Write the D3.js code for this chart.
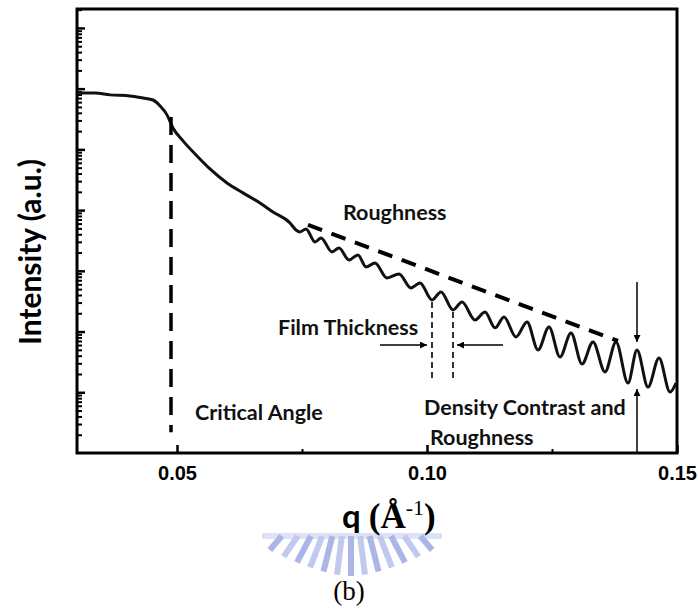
<!DOCTYPE html>
<html>
<head>
<meta charset="utf-8">
<script src="https://cdn.jsdelivr.net/npm/d3@7"></script>
<style>
body { margin: 0; background: #fff; }
</style>
</head>
<body>
<div id="chart"></div>
<script>
// reflectivity curve
const qData = [0.0302, 0.0336, 0.0366, 0.0406, 0.0432, 0.0452, 0.0466, 0.0480, 0.0492, 0.0512,
    0.0540, 0.0566, 0.0600, 0.0632, 0.0666, 0.0692, 0.0726, 0.0738, 0.0746, 0.0758,
    0.0776, 0.0788, 0.0810, 0.0824, 0.0844, 0.0862, 0.0878, 0.0896, 0.0920, 0.0944,
    0.0968, 0.0986, 0.1010, 0.1028, 0.1052, 0.1070, 0.1096, 0.1116, 0.1136, 0.1154,
    0.1178, 0.1200, 0.1222, 0.1244, 0.1266, 0.1288, 0.1310, 0.1332, 0.1356, 0.1378,
    0.1402, 0.1420, 0.1442, 0.1464, 0.1486, 0.1498];
const intensity = [8.5e5, 8.5e5, 7.9e5, 7.6e5, 7.0e5, 6.5e5, 5.2e5, 3.7e5, 2.25e5, 1.38e5,
    7.8e4, 4.76e4, 2.8e4, 1.92e4, 1.31e4, 9300, 6150, 4710, 4370, 4900,
    2990, 3480, 2050, 2380, 1510, 1830, 1160, 1350, 763, 888,
    522, 631, 331, 449, 227, 307, 155, 210, 115, 174,
    81.4, 144, 49.8, 119, 38.1, 94.8, 29.2, 67.4, 21.6, 67.4,
    14.2, 49.7, 12.2, 36.7, 10.1, 14.2];

const xTicks = [0.05, 0.10, 0.15];
const xMinor = [0.075, 0.125];
const yDecades = [1e1, 1e2, 1e3, 1e4, 1e5, 1e6, 1e7];

// annotations (in data units)
const criticalQ = 0.0488;
const criticalRange = [3.4e5, 2.2];
const roughLine = [[0.0762, 5700], [0.1382, 70]];
const fringeQ = [0.1010, 0.1052];
const fringeTop = [307, 210];
const fringeBottom = 15.3;

const W = 698, H = 614;
const margin = {top: 9, right: 21, bottom: 161, left: 77};

const svg = d3.select('#chart').append('svg')
    .attr('width', W)
    .attr('height', H);

const x = d3.scaleLinear().domain([0.03, 0.15]).range([margin.left, W - margin.right]);
const y = d3.scaleLog().domain([1, 2.05e7]).range([H - margin.bottom, margin.top]);

const sans = 'Lato, Carlito, "Open Sans", sans-serif';
const serif = '"Liberation Serif", "Times New Roman", serif';

// watermark (logo remnant under the axis title)
let wm = svg.append('g').attr('opacity', 0.7);
wm.append('rect')
    .attr('x', 262).attr('y', 533).attr('width', 180).attr('height', 6)
    .attr('fill', '#d0d6f4');
let cx = 351, cy = 468;
d3.range(-6, 7).forEach(i => {
    let a = i * 0.13;
    let yb = 576 - 26 * Math.pow(Math.abs(i) / 6, 1.6);
    wm.append('line')
        .attr('x1', cx + (538 - cy) * Math.tan(a)).attr('y1', 536)
        .attr('x2', cx + (yb - cy) * Math.tan(a)).attr('y2', yb)
        .attr('stroke', i % 2 ? '#a7b3e8' : '#8898dc')
        .attr('stroke-width', 6);
});

// y axis ticks, inward
let minorVals = [];
for (let d = 1; d <= 1e7; d *= 10) {
    for (let m = 2; m <= 9; m++) if (d * m < 2.05e7) minorVals.push(d * m);
}
svg.append('g')
    .attr('transform', `translate(${margin.left},0)`)
    .call(d3.axisRight(y).tickValues(yDecades).tickSize(8).tickFormat(''))
    .call(g => g.select('.domain').remove())
    .selectAll('line').attr('stroke', '#000').attr('stroke-width', 2.5);
svg.append('g')
    .attr('transform', `translate(${margin.left},0)`)
    .call(d3.axisRight(y).tickValues(minorVals).tickSize(5).tickFormat(''))
    .call(g => g.select('.domain').remove())
    .selectAll('line').attr('stroke', '#000').attr('stroke-width', 2);

// x axis ticks, inward, labels below
let yb0 = H - margin.bottom;
svg.append('g')
    .attr('transform', `translate(0,${yb0})`)
    .call(d3.axisTop(x).tickValues(xTicks).tickSize(8).tickFormat(''))
    .call(g => g.select('.domain').remove())
    .selectAll('line').attr('stroke', '#000').attr('stroke-width', 2.5);
svg.append('g')
    .attr('transform', `translate(0,${yb0})`)
    .call(d3.axisTop(x).tickValues(xMinor).tickSize(4).tickFormat(''))
    .call(g => g.select('.domain').remove())
    .selectAll('line').attr('stroke', '#000').attr('stroke-width', 2);
svg.append('g')
    .attr('transform', `translate(0,${yb0})`)
    .call(d3.axisBottom(x).tickValues(xTicks).tickSize(0).tickPadding(13).tickFormat(d3.format('.2f')))
    .call(g => g.select('.domain').remove())
    .selectAll('text')
    .attr('fill', '#000')
    .style('font-family', '"Liberation Sans", Arial, sans-serif')
    .style('font-weight', 'bold')
    .style('font-size', '20px');

// frame
svg.append('rect')
    .attr('x', margin.left).attr('y', margin.top)
    .attr('width', W - margin.left - margin.right)
    .attr('height', H - margin.top - margin.bottom)
    .attr('fill', 'none').attr('stroke', '#000').attr('stroke-width', 3);

// data curve
let line = d3.line()
    .x((d, i) => x(qData[i]))
    .y(d => y(d))
    .curve(d3.curveMonotoneX);
svg.append('path')
    .datum(intensity)
    .attr('d', line)
    .attr('fill', 'none')
    .attr('stroke', '#111')
    .attr('stroke-width', 3)
    .attr('stroke-linejoin', 'round');

// critical angle
svg.append('line')
    .attr('x1', x(criticalQ)).attr('x2', x(criticalQ))
    .attr('y1', y(criticalRange[0])).attr('y2', y(criticalRange[1]))
    .attr('stroke', '#000').attr('stroke-width', 3.5)
    .attr('stroke-dasharray', '18 10');

// roughness envelope
svg.append('line')
    .attr('x1', x(roughLine[0][0])).attr('y1', y(roughLine[0][1]))
    .attr('x2', x(roughLine[1][0])).attr('y2', y(roughLine[1][1]))
    .attr('stroke', '#000').attr('stroke-width', 4)
    .attr('stroke-dasharray', '15 10');

// film thickness markers
fringeQ.forEach((q, i) => {
    svg.append('line')
        .attr('x1', x(q)).attr('x2', x(q))
        .attr('y1', y(fringeTop[i])).attr('y2', y(fringeBottom))
        .attr('stroke', '#000').attr('stroke-width', 1.6)
        .attr('stroke-dasharray', '6 4');
});

svg.append('defs').append('marker')
    .attr('id', 'arrow')
    .attr('viewBox', '0 0 10 10')
    .attr('refX', 10).attr('refY', 5)
    .attr('markerWidth', 7).attr('markerHeight', 7)
    .attr('markerUnits', 'userSpaceOnUse')
    .attr('orient', 'auto')
    .append('path')
    .attr('d', 'M0,0L10,5L0,10z')
    .attr('fill', '#000');

function arrow(q1, i1, q2, i2) {
    svg.append('line')
        .attr('x1', x(q1)).attr('y1', y(i1))
        .attr('x2', x(q2)).attr('y2', y(i2))
        .attr('stroke', '#000').attr('stroke-width', 1.5)
        .attr('marker-end', 'url(#arrow)');
}
arrow(0.0906, 60, 0.1000, 60);
arrow(0.1152, 60, 0.1060, 60);
arrow(0.1420, 656, 0.1420, 67);
arrow(0.1420, 1, 0.1420, 11.3);

// annotation text
function note(q, v, txt) {
    svg.append('text')
        .attr('x', x(q)).attr('y', y(v))
        .style('font-family', sans)
        .style('font-weight', 'bold')
        .style('font-size', '21.5px')
        .attr('fill', '#111')
        .text(txt);
}
note(0.0536, 3.5, 'Critical Angle');
note(0.0832, 6890, 'Roughness');
note(0.0702, 88, 'Film Thickness');
note(0.0994, 4.2, 'Density Contrast and');
note(0.1006, 1.33, 'Roughness');

// axis titles
svg.append('text')
    .attr('transform', 'translate(41,252) rotate(-90)')
    .attr('text-anchor', 'middle')
    .style('font-family', sans)
    .style('font-weight', 'bold')
    .style('font-size', '30px')
    .text('Intensity (a.u.)');

let xt = svg.append('text')
    .attr('x', 342).attr('y', 528)
    .style('font-weight', 'bold');
xt.append('tspan').style('font-family', sans).style('font-size', '33px').text('q ');
xt.append('tspan').style('font-family', serif).style('font-size', '35px').text('(Å');
xt.append('tspan').style('font-family', serif).style('font-size', '22px').style('font-weight', 'normal')
    .attr('dy', -13).text('-1');
xt.append('tspan').style('font-family', serif).style('font-size', '35px').attr('dy', 13).text(')');

svg.append('text')
    .attr('x', 349).attr('y', 600)
    .attr('text-anchor', 'middle')
    .style('font-family', serif)
    .style('font-size', '27px')
    .text('(b)');
</script>
</body>
</html>
